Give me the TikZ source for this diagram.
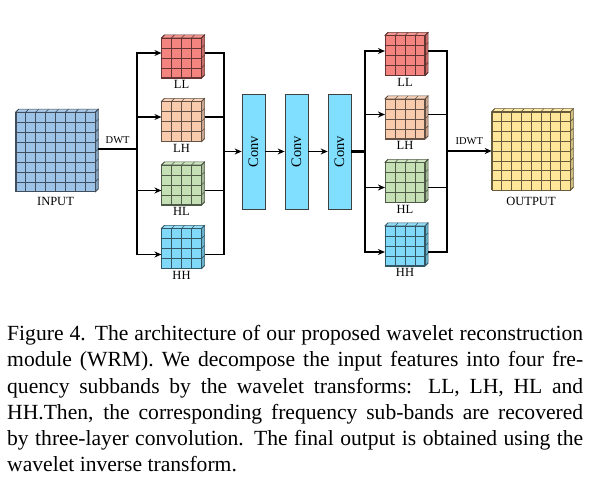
\documentclass[tikz,border=0pt]{standalone}
\usepackage{fontspec}
\setmainfont{Liberation Serif}
\usepackage{tikz}
\usetikzlibrary{arrows.meta, positioning, calc, shadows}

\definecolor{inputblue}{HTML}{9DC3E6}
\definecolor{llred}{HTML}{F4847F}
\definecolor{lhpeach}{HTML}{F8CBAD}
\definecolor{hlgreen}{HTML}{C5E0B4}
\definecolor{hhcyan}{HTML}{80D9F9}
\definecolor{convcyan}{HTML}{80DEFF}
\definecolor{outyellow}{HTML}{FFE699}

\newcommand{\lab}{\fontsize{12.5}{14}\selectfont}
% grid, top face and side face of a feature map node
\newcommand{\cubegrid}[4]{% node, cells, colour, depth
	\filldraw[fill=#3!85!white, draw=#3!40!black, line width=0.6pt] (#1.north west) -- ++(#4pt,#4pt) -- ([shift={(#4pt,#4pt)}]#1.north east) -- (#1.north east) -- cycle;
	\filldraw[fill=#3!82!black, draw=#3!40!black, line width=0.6pt] (#1.north east) -- ++(#4pt,#4pt) -- ([shift={(#4pt,#4pt)}]#1.south east) -- (#1.south east) -- cycle;
	\foreach \i in {0,...,#2} {
		\draw[#3!40!black, line width=0.6pt] ($(#1.north west)!\i/#2!(#1.north east)$) -- ++(#4pt,#4pt);
		\draw[#3!40!black, line width=0.6pt] ($(#1.north east)!\i/#2!(#1.south east)$) -- ++(#4pt,#4pt);
		\draw[#3!40!black, line width=0.6pt] ($(#1.north west)!\i/#2!(#1.north east)$) -- ($(#1.south west)!\i/#2!(#1.south east)$);
		\draw[#3!40!black, line width=0.6pt] ($(#1.north west)!\i/#2!(#1.south west)$) -- ($(#1.north east)!\i/#2!(#1.south east)$);
	}
}

\begin{document}
\begin{tikzpicture}[x=1pt, y=-1pt, node distance=63.5pt,
	fmap/.style={draw=#1!40!black, line width=0.6pt, fill=#1, inner sep=0, minimum size=39.5pt},
	band/.style={label={[font=\lab, inner sep=1pt, label distance=1.5pt]below:#1}},
	conv/.style={draw=black!75, line width=0.7pt, fill=convcyan, minimum width=23pt, minimum height=115pt, inner sep=0,
		font=\fontsize{14.5}{16}\selectfont, drop shadow={shadow xshift=1pt, shadow yshift=-1pt, opacity=0.35}},
	wire/.style={line width=1.4pt},
	arr/.style={line width=1.4pt, -{Stealth[length=7pt, width=6pt]}}]
	\useasboundingbox (0,0) rectangle (602,502);
	
	% nodes
	\node[fmap=inputblue, minimum size=79pt, label={[font=\lab, inner sep=1pt, label distance=4pt]below:INPUT}] (input) at (55.5,152) {};
	
	\node[fmap=llred, band=LL] (ll1) at (181.5,58) {};
	\node[fmap=lhpeach, band=LH, below of = ll1] (lh1) {};
	\node[fmap=hlgreen, band=HL, below of = lh1] (hl1) {};
	\node[fmap=hhcyan, band=HH, below of = hl1] (hh1) {};
	
	\node[conv] (conv1) at (253.5,151.5) {\rotatebox{90}{Conv}};
	\node[conv, right of = conv1, node distance = 43pt] (conv2) {\rotatebox{90}{Conv}};
	\node[conv, right of = conv2, node distance = 43pt] (conv3) {\rotatebox{90}{Conv}};
	
	\node[fmap=llred, band=LL] (ll2) at (405,55.5) {};
	\node[fmap=lhpeach, band=LH, below of = ll2] (lh2) {};
	\node[fmap=hlgreen, band=HL, below of = lh2] (hl2) {};
	\node[fmap=hhcyan, band=HH, below of = hl2] (hh2) {};
	
	\node[fmap=outyellow, minimum size=78pt, label={[font=\lab, inner sep=1pt, label distance=6pt]below:OUTPUT}] (output) at (531,151) {};
	
	\cubegrid{input}{8}{inputblue}{3}
	\foreach \n/\c in {ll1/llred, lh1/lhpeach, hl1/hlgreen, hh1/hhcyan, ll2/llred, lh2/lhpeach, hl2/hlgreen, hh2/hhcyan} {
		\cubegrid{\n}{4}{\c}{3}
	}
	\cubegrid{output}{8}{outyellow}{3}
	
	% bus points
	\coordinate (split1) at (137,149);
	\coordinate (merge1) at (224,151.5);
	\coordinate (split2) at (365,151.5);
	\coordinate (merge2) at (447,151);
	
	% connectors
	\draw[line width=2.4pt] ([xshift=3pt,yshift=3pt]input.east) -- node[above=1pt, font=\fontsize{10.5}{12}\selectfont] {DWT} (split1);
	\foreach \n/\d in {ll1/5, lh1/4.5, hl1/-5.5, hh1/-6} {
		\draw[arr] (split1) |- ([yshift=\d pt]\n.west);
		\draw[wire] ([xshift=3pt,yshift=\d pt]\n.east) -| (merge1);
	}
	\draw[arr] (merge1) -- (conv1);
	\draw[arr] (conv1) -- (conv2);
	\draw[arr] (conv2) -- (conv3);
	\draw[line width=2.4pt] (conv3) -- (split2);
	\foreach \n/\d in {ll2/4.5, lh2/4.5, hl2/-5, hh2/-6} {
		\draw[arr] (split2) |- ([yshift=\d pt]\n.west);
		\draw[wire] ([xshift=3pt,yshift=\d pt]\n.east) -| (merge2);
	}
	\draw[arr] (merge2) -- node[above=2pt, font=\fontsize{10.5}{12}\selectfont] {IDWT} (output.west);
	
	% caption
	\node[anchor=north west, text width=576pt, align=justify, inner sep=0pt, font=\fontsize{21.6}{26.3}\selectfont] (caption) at (7,325)
	{Figure 4. The architecture of our proposed wavelet reconstruction\linebreak
		module (WRM). We decompose the input features into four fre-\linebreak
		quency subbands by the wavelet transforms: LL, LH, HL and\linebreak
		HH.Then, the corresponding frequency sub-bands are recovered\linebreak
		by three-layer convolution. The final output is obtained using the\linebreak
		wavelet inverse transform.};
\end{tikzpicture}
\end{document}
